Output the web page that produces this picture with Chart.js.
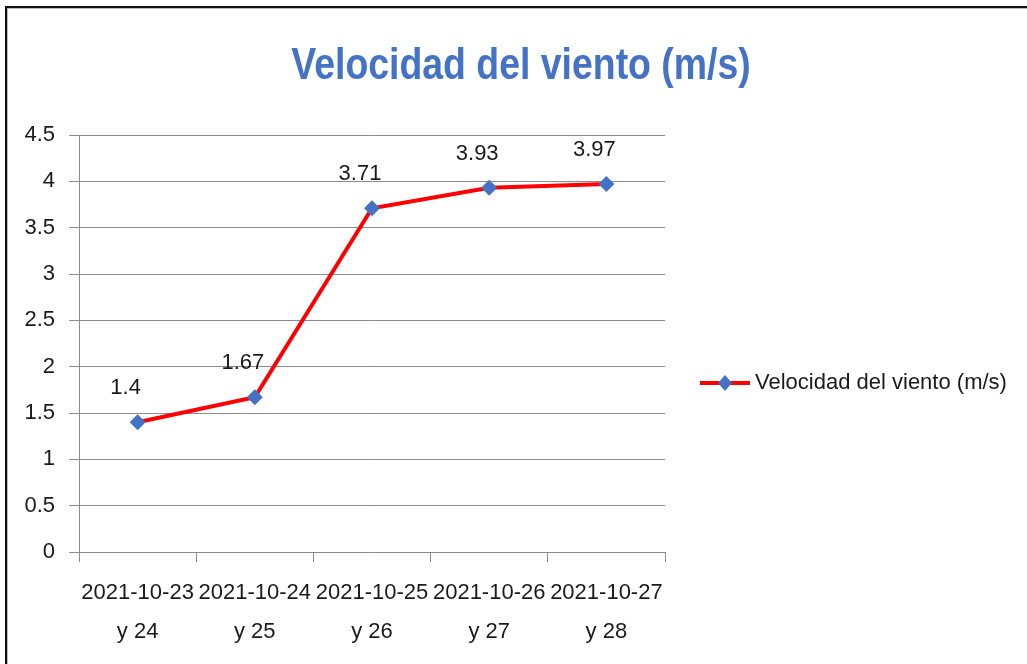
<!DOCTYPE html>
<html>
<head>
<meta charset="utf-8">
<script src="https://cdn.jsdelivr.net/npm/chart.js@4/dist/chart.umd.min.js"></script>
<style>
  html, body { margin: 0; padding: 0; background: #fff; }
  #wrap { position: relative; width: 1027px; height: 664px; overflow: hidden; }
  #marco {
    position: absolute; left: 5px; top: 6px; width: 1100px; height: 760px;
    border-top: 2px solid #111; border-left: 2px solid #111;
    box-shadow: inset 1px 1px 0 #bbb;
  }
  canvas { position: absolute; left: 0; top: 0; }
</style>
</head>
<body>
<div id="wrap">
  <div id="marco"></div>
  <canvas id="myChart" width="1027" height="664"></canvas>
</div>
<script>
// datos del grafico
const fechas = [
    ['2021-10-23', 'y 24'],
    ['2021-10-24', 'y 25'],
    ['2021-10-25', 'y 26'],
    ['2021-10-26', 'y 27'],
    ['2021-10-27', 'y 28']
];
const velocidad = [1.4, 1.67, 3.71, 3.93, 3.97];
const nombreSerie = 'Velocidad del viento (m/s)';
const titulo = 'Velocidad del viento (m/s)';

const fuente = "'Liberation Sans', Arial, sans-serif";
const rojo = '#ff0000';
const azul = '#4472c4';
const gris = '#8c8c8c';
const texto = '#1a1a1a';

// titulo centrado sobre todo el lienzo (un poco estrecho, como Calibri)
const tituloPlugin = {
    id: 'tituloPlugin',
    afterDraw(chart) {
        const c = chart.ctx;
        c.save();
        c.font = 'bold 43.5px ' + fuente;
        c.fillStyle = azul;
        c.textAlign = 'center';
        c.textBaseline = 'alphabetic';
        c.translate(521, 79);
        c.scale(0.86, 1);
        c.fillText(titulo, 0, 0);
        c.restore();
    }
};

// etiquetas de valor encima de cada punto
const etiquetasValor = {
    id: 'etiquetasValor',
    afterDatasetsDraw(chart) {
        const c = chart.ctx;
        const meta = chart.getDatasetMeta(0);
        c.save();
        c.font = '22px ' + fuente;
        c.fillStyle = texto;
        c.textAlign = 'center';
        c.textBaseline = 'middle';
        meta.data.forEach((p, i) => {
            c.fillText(String(velocidad[i]), p.x - 12, p.y - 34);
        });
        c.restore();
    }
};

// leyenda a la derecha (linea con rombo)
const leyenda = {
    id: 'leyenda',
    afterDraw(chart) {
        const c = chart.ctx;
        const a = chart.chartArea;
        const x = a.right + 35;
        const y = a.top + 248;
        c.save();
        c.strokeStyle = rojo;
        c.lineWidth = 4;
        c.beginPath();
        c.moveTo(x, y);
        c.lineTo(x + 50, y);
        c.stroke();
        c.fillStyle = azul;
        c.beginPath();
        c.moveTo(x + 25, y - 8);
        c.lineTo(x + 32, y);
        c.lineTo(x + 25, y + 8);
        c.lineTo(x + 18, y);
        c.closePath();
        c.fill();
        c.font = '22px ' + fuente;
        c.fillStyle = texto;
        c.textAlign = 'left';
        c.textBaseline = 'middle';
        c.fillText(nombreSerie, x + 55, y);
        c.restore();
    }
};

const ctx = document.getElementById('myChart');

new Chart(ctx, {
    type: 'line',
    data: {
        labels: fechas,
        datasets: [{
            label: nombreSerie,
            data: velocidad,
            borderColor: rojo,
            borderWidth: 4,
            tension: 0,
            fill: false,
            pointStyle: 'rectRot',
            pointRadius: 8,
            pointBackgroundColor: azul,
            pointBorderColor: azul,
            pointBorderWidth: 0
        }]
    },
    options: {
        responsive: false,
        animation: false,
        layout: { padding: { left: 0, right: 362, top: 135, bottom: 0 } },
        plugins: {
            legend: { display: false },
            tooltip: { enabled: false },
            title: { display: false }
        },
        scales: {
            x: {
                offset: true,
                grid: {
                    offset: true,
                    drawOnChartArea: false,
                    drawTicks: true,
                    tickLength: 10,
                    color: gris
                },
                border: { color: gris, width: 1 },
                ticks: {
                    color: texto,
                    font: { family: fuente, size: 22, lineHeight: 1.75 },
                    maxRotation: 0,
                    autoSkip: false,
                    padding: 12
                },
                afterFit: s => { s.height = 112; }
            },
            y: {
                min: 0,
                max: 4.5,
                ticks: {
                    stepSize: 0.5,
                    color: texto,
                    font: { family: fuente, size: 22 },
                    padding: 14,
                    callback: v => String(v)
                },
                grid: { color: gris, tickLength: 10 },
                border: { color: gris, width: 1 },
                afterFit: s => { s.width = 79; }
            }
        }
    },
    plugins: [tituloPlugin, etiquetasValor, leyenda]
});
</script>
</body>
</html>
